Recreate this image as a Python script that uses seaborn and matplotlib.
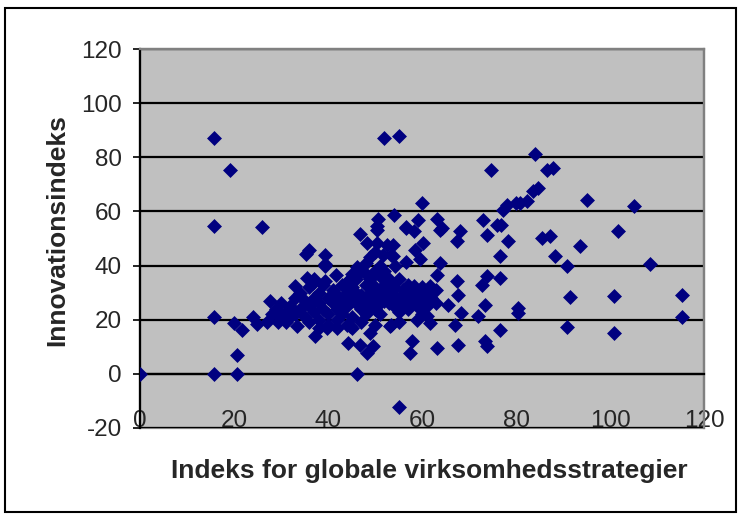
import matplotlib
matplotlib.use("Agg")
import matplotlib.pyplot as plt
import seaborn as sns
import pandas as pd
from matplotlib.patches import Rectangle

# ---- data ----
outlier_x = [0, 15.8, 19.1, 15.8, 26.0, 15.7, 19.9, 21.8, 24.0, 24.8, 20.6, 15.7, 20.6, 27.7, 27.0, 29.4,
             52.0, 55.0, 46.1, 55.2, 74.6, 84.0, 86.5, 87.9, 83.7, 84.7, 95.0, 105.0, 101.8, 108.6,
             115.4, 115.4, 100.9, 100.9, 91.5, 90.8, 90.8, 93.6, 88.3, 85.5, 87.2]
outlier_y = [0, 87.3, 75.4, 54.8, 54.1, 20.9, 18.8, 16.3, 20.9, 18.5, 6.8, 0, 0, 26.8, 19.0, 19.0,
             87.3, 87.9, 0, -12.4, 75.4, 81.3, 75.4, 76.0, 67.4, 68.6, 64.3, 62.1, 52.6, 40.7,
             29.0, 20.9, 28.9, 15.1, 28.4, 17.2, 40.0, 47.3, 43.7, 50.2, 51.0]

mid_x = [36.0, 35.3, 39.4, 39.4, 41.8, 46.1, 46.8, 48.2, 50.4, 52.5, 50.4, 35.5, 33.0, 36.9, 39.4, 44.3,
         33.3, 37.2, 39.7, 44.3, 46.8, 48.2, 49.6, 44.7, 48.9, 53.2,
         60.1, 54.0, 50.7, 50.4, 59.2, 56.7, 63.1, 64.2, 68.1, 72.9, 75.9, 78.0, 80.1,
         58.2, 67.4, 73.8, 78.4, 53.9, 60.3, 58.5, 53.9, 56.7, 59.6, 63.8, 76.6,
         63.1, 67.4, 73.8, 72.7, 76.6, 58.2, 61.7, 67.7, 65.6, 68.4, 73.4, 72.0, 67.0, 76.6,
         53.5, 57.8, 57.4, 63.1, 67.7, 73.4, 73.8, 61.0, 61.7,
         80.9, 82.3, 77.3, 76.9, 80.5, 80.5, 51.8, 53.5, 54.3, 39.4, 63.8, 56.7]
mid_y = [45.9, 44.4, 44.0, 40.0, 36.6, 39.5, 51.8, 48.3, 48.3, 47.7, 53.0, 35.4, 32.3, 33.6, 34.2, 34.2,
         17.6, 14.1, 17.0, 11.4, 10.8, 7.7, 10.2, 17.6, 15.1, 17.6,
         63.0, 58.5, 57.3, 54.5, 57.0, 53.9, 57.3, 53.9, 52.6, 57.0, 55.1, 62.5, 63.0,
         52.6, 48.9, 51.4, 48.9, 47.7, 48.3, 45.9, 43.4, 41.5, 42.4, 41.0, 43.7,
         36.6, 34.2, 36.0, 33.0, 35.4, 32.3, 32.3, 29.3, 25.6, 22.5, 25.6, 21.3, 18.2, 16.3,
         18.2, 12.0, 7.7, 9.6, 10.8, 12.0, 10.2, 21.3, 18.8,
         63.1, 63.7, 60.6, 55.1, 24.4, 22.5, 44.0, 44.0, 39.7, 40.6, 53.2, 54.2]

dense_x = [28, 29, 30, 30, 31, 31, 32, 32, 33, 33, 34, 34, 35, 35, 36, 36, 36, 37, 37, 37,
           38, 38, 38, 39, 39, 40, 40, 40, 41, 41, 42, 42, 42, 43, 43, 43, 44, 44, 44,
           45, 45, 45, 46, 46, 46, 47, 47, 47, 48, 48, 48, 48, 49, 49, 49, 50, 50, 50, 50,
           51, 51, 51, 51, 52, 52, 52, 53, 53, 53, 54, 54, 54, 55, 55, 55, 56, 56, 56,
           57, 57, 57, 58, 58, 59, 59, 60, 60, 60, 61, 61, 62, 62, 63, 63,
           44, 45, 47, 48, 49, 50, 51, 52, 53, 38, 42, 45, 50, 55, 59]
dense_y = [22, 24, 21, 26, 23, 19, 25, 21, 28, 22, 24, 30, 27, 21, 25, 32, 19, 28, 23, 35,
           26, 30, 20, 24, 33, 28, 22, 18, 31, 26, 24, 29, 20, 27, 33, 22, 30, 25, 18,
           28, 32, 21, 26, 30, 35, 24, 29, 19, 27, 33, 37, 22, 25, 30, 35, 28, 38, 24, 32,
           26, 30, 22, 40, 27, 33, 29, 26, 30, 28, 25, 32, 29, 27, 35, 23, 29, 26, 31,
           28, 24, 33, 27, 30, 25, 29, 32, 27, 22, 29, 25, 28, 30, 26, 31,
           34, 37, 38, 41, 43, 45, 36, 38, 35, 17, 17, 17, 18, 19, 20]

x_ticks = [0, 20, 40, 60, 80, 100, 120]
y_ticks = [-20, 0, 20, 40, 60, 80, 100, 120]
x_title = "Indeks for globale virksomhedsstrategier"
y_title = "Innovationsindeks"

df = pd.DataFrame({
    "x": outlier_x + mid_x + dense_x,
    "y": outlier_y + mid_y + dense_y,
})

# ---- figure ----
sns.set_style("white")
plt.rcParams["font.family"] = ["Liberation Sans", "DejaVu Sans"]

W, H = 739, 515
fig = plt.figure(figsize=(W / 100, H / 100), dpi=100)
ax = fig.add_axes([140 / W, 1 - 428 / H, (704 - 140) / W, (428 - 49) / H])
ax.set_facecolor("#C0C0C0")

sns.scatterplot(data=df, x="x", y="y", marker="D", color="#000080", s=58,
                linewidth=0, ax=ax, zorder=3, legend=False)

ax.set_xlim(0, 120)
ax.set_ylim(-20, 120)
ax.set_xticks(x_ticks)
ax.set_yticks(y_ticks)
ax.set_xticklabels([str(t) for t in x_ticks])
ax.set_yticklabels([str(t) for t in y_ticks])

# gridlines
ax.yaxis.grid(True, color="black", linewidth=1.6)
ax.xaxis.grid(False)
ax.set_axisbelow(True)

# spines
ax.spines["bottom"].set_position(("data", 0))
ax.spines["bottom"].set_color("black")
ax.spines["bottom"].set_linewidth(1.6)
ax.spines["left"].set_color("black")
ax.spines["left"].set_linewidth(1.6)
for s in ["top", "right"]:
    ax.spines[s].set_color("#808080")
    ax.spines[s].set_linewidth(1.6)
ax.add_patch(Rectangle((0, 0), 1, 1, transform=ax.transAxes, fill=False,
                       edgecolor="#808080", linewidth=1.6, zorder=0.5, clip_on=False))

ax.tick_params(axis="x", direction="inout", length=8, width=1.2, color="black",
               pad=22, labelsize=17.5)
ax.tick_params(axis="y", direction="out", length=5, width=1.2, color="black",
               pad=8, labelsize=17.5, left=True)

ax.set_xlabel("")
ax.set_ylabel("")
fig.text(429 / W, 1 - 471 / H, x_title, ha="center", va="center",
         fontsize=19, fontweight="bold")
fig.text(57 / W, 1 - 230 / H, y_title, ha="center", va="center",
         fontsize=19, fontweight="bold", rotation=90)

# outer chart border
fig.patches.append(Rectangle((5 / W, 1 - 512 / H), (736 - 5) / W, (512 - 8) / H,
                             transform=fig.transFigure, fill=False,
                             edgecolor="black", linewidth=1.5))

fig.savefig("out.png", dpi=100)
